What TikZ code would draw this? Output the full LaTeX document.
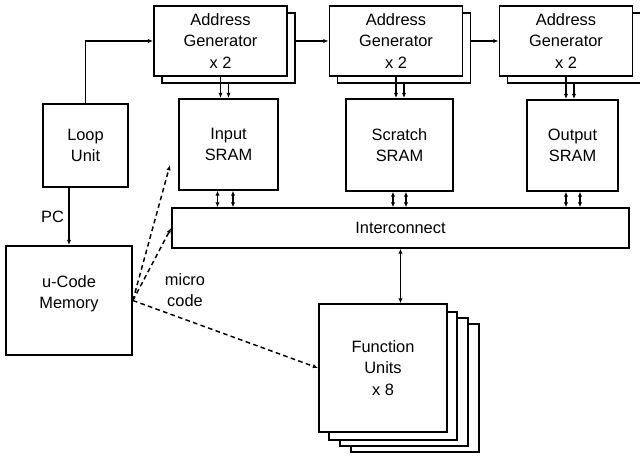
\documentclass[tikz,border=0pt]{standalone}
\usepackage{fontspec}
\setmainfont{Liberation Sans}
\usetikzlibrary{arrows.meta, calc}

\begin{document}
\begin{tikzpicture}[x=0.75pt, y=-0.75pt, font=\fontsize{12.3}{16}\selectfont,
  box/.style={draw, line width=1.3pt, fill=white, align=center, inner sep=0pt},
  sz/.style 2 args={minimum width=#1*0.75pt, minimum height=#2*0.75pt},
  wire/.style={line width=1pt, -{Latex[length=4pt, width=3.2pt]}},
  bus/.style={line width=1pt, {Latex[length=3.5pt, width=3.2pt]}-{Latex[length=3.5pt, width=3.2pt]}},
  ctrl/.style={line width=1.1pt, dash pattern=on 3.5pt off 2.5pt, -{Latex[length=4pt, width=3.2pt]}}]
\useasboundingbox (0,0) rectangle (640,456);

% address generators, one copy behind each
\foreach \n/\x in {ag1/220.5, ag2/396, ag3/566} {
  \node[box, sz={133}{70}] (\n-b) at (\x+8, 48) {};
  \node[box, sz={133}{70}] (\n) at (\x, 41) {Address\\Generator\\x 2};
}

\node[box, sz={99}{91}] (in) at (228.5, 144.5) {Input\\SRAM};
\node[box, sz={107}{92}] (scr) at (399.5, 145) {Scratch\\SRAM};
\node[box, sz={91}{91}] (out) at (572.5, 145.5) {Output\\SRAM};
\node[box, sz={457}{40}] (ic) at (400.5, 228) {Interconnect};
\node[box, sz={85}{83}] (loop) at (85.5, 145.5) {Loop\\Unit};
\node[box, sz={126}{109}, text depth=13pt] (ucode) at (69, 300.5) {u-Code\\Memory};

% function units, stacked
\foreach \k/\dx/\dy in {3/32/20, 2/21/14, 1/10/8}
  \node[box, sz={128}{128}] (fu-\k) at (383+\dx, 368+\dy) {};
\node[box, sz={128}{128}] (fu) at (383, 368) {Function\\Units\\x 8};

\node[align=center] (mc) at (185, 290) {micro\\code};
\coordinate (ctl-in) at (170, 165);

\draw[wire] (loop.north) |- (ag1.west);
\draw[wire] (ag1-b.east |- ag2.west) -- (ag2.west);
\draw[wire] (ag2-b.east |- ag3.west) -- (ag3.west);

\foreach \a/\s in {ag1/in, ag2/scr, ag3/out} {
  \draw[wire] (\a.south) -- (\a.south |- \s.north);
  \draw[wire] (\a-b.south) -- (\a-b.south |- \s.north);
}

\foreach \s/\l/\r in {in/-11/4.5, scr/-6.5/6.5, out/-6.5/7.5} {
  \draw[bus] ($(\s.south)+(\l,0)$) -- ($(ic.north -| \s.south)+(\l,0)$);
  \draw[bus] ($(\s.south)+(\r,0)$) -- ($(ic.north -| \s.south)+(\r,0)$);
}
\draw[bus] (ic.south) -- (ic.south |- fu.north);

\draw[wire] (ucode.north |- loop.south) -- node[left] {PC} (ucode.north);

\draw[ctrl] (ucode.east) -- (ctl-in);
\draw[ctrl] (ucode.east) -- (ic.west);
\draw[ctrl] (ucode.east) -- (fu.west);

\end{tikzpicture}
\end{document}
